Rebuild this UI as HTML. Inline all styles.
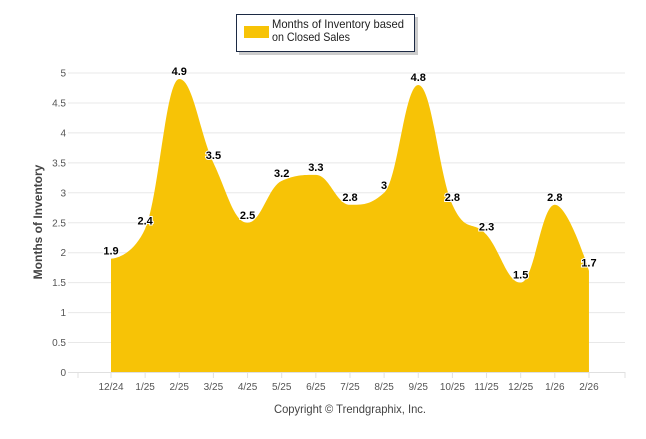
<!DOCTYPE html>
<html><head><meta charset="utf-8"><style>
body{margin:0;background:#fff;width:646px;height:434px;overflow:hidden;font-family:"Liberation Sans",sans-serif}
</style></head><body>
<svg id="s" width="646" height="434" xmlns="http://www.w3.org/2000/svg" font-family="Liberation Sans, sans-serif">
<rect x="239" y="17" width="179" height="38" fill="#999" opacity="0.5"/>
<rect x="236.5" y="14.5" width="178" height="37" fill="#fff" stroke="#1c2a44" stroke-width="1"/>
<rect x="244" y="26" width="25" height="12" fill="#f7c306"/>
<text x="272" y="28" font-size="12" fill="#222" textLength="132" lengthAdjust="spacingAndGlyphs">Months of Inventory based</text>
<text x="272" y="41" font-size="12" fill="#222" textLength="78" lengthAdjust="spacingAndGlyphs">on Closed Sales</text>
<g id="grid" stroke="#e8e8e8" stroke-width="1"></g>
<path id="area" fill="#f7c306"/>
<line x1="68" y1="372.5" x2="625" y2="372.5" stroke="#e0e0e0"/>
<g id="ticks" stroke="#e0e0e0"></g>
<g id="yl" font-size="10" fill="#555" text-anchor="end"></g>
<g id="xl" font-size="10" fill="#555" text-anchor="middle"></g>
<g id="dl" font-size="11" font-weight="bold" fill="#000" text-anchor="middle" stroke="#fff" stroke-width="2" paint-order="stroke"></g>
<text transform="translate(42,222) rotate(-90)" font-size="12" font-weight="bold" fill="#444" text-anchor="middle">Months of Inventory</text>
<text x="274" y="413" font-size="12" fill="#444" textLength="152" lengthAdjust="spacingAndGlyphs">Copyright © Trendgraphix, Inc.</text>
</svg>
<script>
var v=[1.9,2.4,4.9,3.5,2.5,3.2,3.3,2.8,3,4.8,2.8,2.3,1.5,2.8,1.7];
var L=["12/24","1/25","2/25","3/25","4/25","5/25","6/25","7/25","8/25","9/25","10/25","11/25","12/25","1/26","2/26"];
var Y=function(a){return 372.5-59.9*a};
var X=function(i){return 111+34.14*i};
var ns="http://www.w3.org/2000/svg";
function el(p,t,a,txt){var e=document.createElementNS(ns,t);for(var k in a)e.setAttribute(k,a[k]);if(txt!=null)e.textContent=txt;document.getElementById(p).appendChild(e);}
for(var k=1;k<=10;k++){var y=Y(k*0.5);el("grid","line",{x1:68,x2:625,y1:y,y2:y});}
for(var k=0;k<=10;k++){el("yl","text",{x:66,y:Y(k*0.5)+3.5},String(k*0.5));}
el("ticks","line",{x1:78,x2:78,y1:372,y2:378});el("ticks","line",{x1:625,x2:625,y1:372,y2:378});
var P=v.map(function(a,i){return [X(i),Y(a)]});
P.forEach(function(p,i){el("ticks","line",{x1:p[0],x2:p[0],y1:372,y2:378});el("xl","text",{x:p[0],y:390},L[i]);
el("dl","text",{x:p[0],y:p[1]-4},String(v[i]));});
var C=[];
for(var i=0;i<P.length;i++){var p=P[i];
 if(i==0||i==P.length-1){C.push({l:p,r:p});continue;}
 var a=P[i-1],b=P[i+1],s=1.5,d=2.5;
 var lx=(s*p[0]+a[0])/d,ly=(s*p[1]+a[1])/d,rx=(s*p[0]+b[0])/d,ry=(s*p[1]+b[1])/d;
 var c=((ry-ly)*(rx-p[0]))/(rx-lx)+p[1]-ry;ly+=c;ry+=c;
 if(ly>Math.max(a[1],p[1])){ly=Math.max(a[1],p[1]);ry=2*p[1]-ly;}
 if(ly<Math.min(a[1],p[1])){ly=Math.min(a[1],p[1]);ry=2*p[1]-ly;}
 if(ry>Math.max(b[1],p[1])){ry=Math.max(b[1],p[1]);ly=2*p[1]-ry;}
 if(ry<Math.min(b[1],p[1])){ry=Math.min(b[1],p[1]);ly=2*p[1]-ry;}
 C.push({l:[lx,ly],r:[rx,ry]});}
var d="M"+P[0][0]+","+372.5+" L"+P[0][0]+","+P[0][1];
for(var i=1;i<P.length;i++){d+=" C"+C[i-1].r.join(",")+" "+C[i].l.join(",")+" "+P[i].join(",");}
d+=" L"+P[P.length-1][0]+",372.5 Z";
document.getElementById("area").setAttribute("d",d);
</script>
</body></html>
